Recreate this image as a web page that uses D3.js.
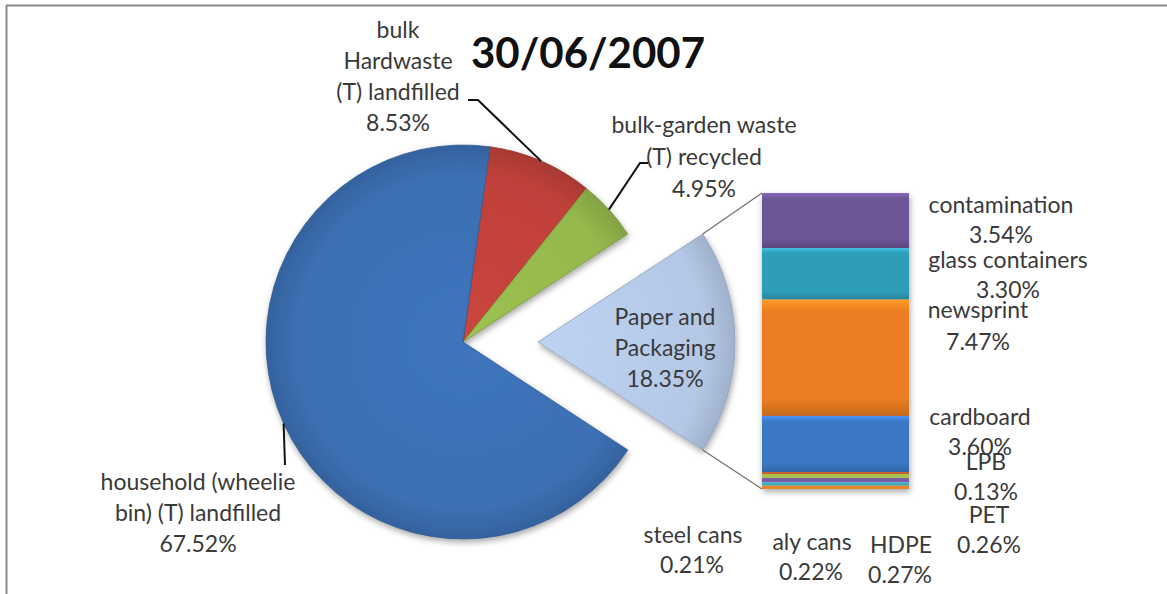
<!DOCTYPE html>
<html>
<head>
<meta charset="utf-8">
<script src="https://cdn.jsdelivr.net/npm/d3@7"></script>
<style>
  html, body { margin: 0; padding: 0; background: #fff; }
  svg { display: block; }
  text { font-family: Lato, "Open Sans", sans-serif; fill: #3a3a3a; }
</style>
</head>
<body>
<svg id="chart" width="1167" height="594"></svg>
<script>
// ---------------- data ----------------
const chartTitle = "30/06/2007";
const pieCategories = ["bulk Hardwaste (T) landfilled", "bulk-garden waste (T) recycled", "Paper and Packaging", "household (wheelie bin) (T) landfilled"];
const pieValues = [8.53, 4.95, 18.35, 67.52];
const pieLabelLines = [["bulk", "Hardwaste", "(T) landfilled"], ["bulk-garden waste", "(T) recycled"], ["Paper and", "Packaging"], ["household (wheelie", "bin) (T) landfilled"]];
const barCategories = ["contamination", "glass containers", "newsprint", "cardboard", "LPB", "PET", "HDPE", "aly cans", "steel cans"];
const barValues = [3.54, 3.30, 7.47, 3.60, 0.13, 0.26, 0.27, 0.22, 0.21];

// ---------------- layout / style ----------------
const pieColors = ["#c0413a", "#94b84c", "#b4c8e6", "#3c6fb3"];
const barColors = ["#6e5496", "#2f9db8", "#eb7e22", "#3a78c4", "#c8602e", "#a8c04e", "#7a5aa6", "#3fa9c0", "#e8852c"];
const pieLabelPos = [
  {x: 398, y: 38, dy: 31, leader: [[468, 100], [478, 100]]},
  {x: 704, y: 133, dy: 32, leader: [[648, 163], [640, 163]]},
  {x: 665, y: 325, dy: 31, leader: null},
  {x: 198, y: 490, dy: 31, leader: [[285, 465]]}
];
const barLabelPos = [
  {x: 1001, y: 213, vx: 1001, vy: 243},
  {x: 1008, y: 268, vx: 1008, vy: 298},
  {x: 978, y: 318, vx: 978, vy: 350},
  {x: 980, y: 425, vx: 980, vy: 455},
  {x: 986, y: 470, vx: 986, vy: 500},
  {x: 989, y: 523, vx: 989, vy: 553},
  {x: 901, y: 553, vx: 900, vy: 583},
  {x: 812, y: 550, vx: 811, vy: 580},
  {x: 693, y: 543, vx: 692, vy: 573}
];
const cx = 463, cy = 342, R = 197, explode = 75;
const barX = 762, barW = 147, barTop = 193, barBottom = 489;
const fontSize = 23;

const fmt = d => d3.format(".2f")(d) + "%";
const svg = d3.select("#chart");
const defs = svg.append("defs");

// drop shadow
const f = defs.append("filter").attr("id", "shadow").attr("x", "-20%").attr("y", "-20%").attr("width", "140%").attr("height", "140%");
f.append("feGaussianBlur").attr("in", "SourceAlpha").attr("stdDeviation", 3);
f.append("feOffset").attr("dx", 1).attr("dy", 3).attr("result", "ob");
f.append("feComponentTransfer").append("feFuncA").attr("type", "linear").attr("slope", 0.35);
const fm = f.append("feMerge");
fm.append("feMergeNode");
fm.append("feMergeNode").attr("in", "SourceGraphic");

// frame
svg.append("line").attr("x1", 6).attr("y1", 5.5).attr("x2", 1167).attr("y2", 5.5).attr("stroke", "#8a8a8a").attr("stroke-width", 2);
svg.append("line").attr("x1", 6.5).attr("y1", 5).attr("x2", 6.5).attr("y2", 594).attr("stroke", "#8a8a8a").attr("stroke-width", 2);

// ---------------- pie ----------------
const total = d3.sum(pieValues);
const paperIdx = 2;
const before = d3.sum(pieValues.slice(0, paperIdx)) + pieValues[paperIdx] / 2;
const start = Math.PI / 2 - before / total * 2 * Math.PI;
const pie = d3.pie().sort(null).value(d => d).startAngle(start).endAngle(start + 2 * Math.PI);
const arcs = pie(pieValues);
const arc = d3.arc().innerRadius(0).outerRadius(R);
const rim = d3.arc().innerRadius(R).outerRadius(R);

pieColors.forEach((c, i) => {
  const g = defs.append("radialGradient").attr("id", "pg" + i).attr("gradientUnits", "userSpaceOnUse")
    .attr("cx", 0).attr("cy", 0).attr("r", R);
  g.append("stop").attr("offset", "0%").attr("stop-color", d3.color(c).brighter(0.15));
  g.append("stop").attr("offset", "85%").attr("stop-color", c);
  g.append("stop").attr("offset", "100%").attr("stop-color", d3.color(c).darker(0.35));
});

const pieG = svg.append("g").attr("filter", "url(#shadow)");
arcs.forEach((a, i) => {
  const mid = (a.startAngle + a.endAngle) / 2;
  const off = i === paperIdx ? explode : 0;
  const tx = cx + off * Math.sin(mid), ty = cy - off * Math.cos(mid);
  pieG.append("g").attr("transform", `translate(${tx},${ty})`)
    .append("path").attr("d", arc(a)).attr("fill", `url(#pg${i})`)
    .attr("stroke", d3.color(pieColors[i]).darker(0.6)).attr("stroke-width", 0.8);
});

// ---------------- bar ----------------
const barTotal = d3.sum(barValues);
const y = d3.scaleLinear().domain([0, barTotal]).range([barTop, barBottom]);
const cum = d3.cumsum(barValues);
const barG = svg.append("g").attr("filter", "url(#shadow)");
barValues.forEach((v, i) => {
  const y0 = y(cum[i] - v), y1 = y(cum[i]);
  const c = barColors[i];
  const g = defs.append("linearGradient").attr("id", "bg" + i).attr("x1", 0).attr("y1", 0).attr("x2", 0).attr("y2", 1);
  g.append("stop").attr("offset", "0%").attr("stop-color", d3.color(c).brighter(0.6));
  g.append("stop").attr("offset", "10%").attr("stop-color", c);
  g.append("stop").attr("offset", "85%").attr("stop-color", c);
  g.append("stop").attr("offset", "100%").attr("stop-color", d3.color(c).darker(0.5));
  barG.append("rect").attr("x", barX).attr("y", y0).attr("width", barW).attr("height", y1 - y0)
    .attr("fill", `url(#bg${i})`);
});

// connector lines
const pa = arcs[paperIdx];
const pMid = (pa.startAngle + pa.endAngle) / 2;
const pcx = cx + explode * Math.sin(pMid), pcy = cy - explode * Math.cos(pMid);
const c1 = [pcx + R * Math.sin(pa.startAngle), pcy - R * Math.cos(pa.startAngle)];
const c2 = [pcx + R * Math.sin(pa.endAngle), pcy - R * Math.cos(pa.endAngle)];
svg.append("line").attr("x1", c1[0]).attr("y1", c1[1]).attr("x2", barX).attr("y2", y(0)).attr("stroke", "#6f6f6f").attr("stroke-width", 1.2);
svg.append("line").attr("x1", c2[0]).attr("y1", c2[1]).attr("x2", barX).attr("y2", y(barTotal)).attr("stroke", "#6f6f6f").attr("stroke-width", 1.2);

// ---------------- labels ----------------
const line = d3.line();
arcs.forEach((a, i) => {
  const p = pieLabelPos[i];
  if (p.leader) {
    const end = rim.centroid(a);
    const pts = p.leader.concat([[cx + end[0], cy + end[1]]]);
    svg.append("path").attr("d", line(pts)).attr("fill", "none").attr("stroke", "#111").attr("stroke-width", 2);
  }
  const lines = pieLabelLines[i].concat([fmt(pieValues[i])]);
  const t = svg.append("text").attr("text-anchor", "middle").attr("font-size", fontSize);
  lines.forEach((s, k) => t.append("tspan").attr("x", p.x).attr("y", p.y + k * p.dy).text(s));
});

barCategories.forEach((name, i) => {
  const p = barLabelPos[i];
  svg.append("text").attr("text-anchor", "middle").attr("font-size", fontSize).attr("x", p.x).attr("y", p.y).text(name);
  svg.append("text").attr("text-anchor", "middle").attr("font-size", fontSize).attr("x", p.vx).attr("y", p.vy).text(fmt(barValues[i]));
});

svg.append("text").attr("x", 588).attr("y", 68).attr("text-anchor", "middle")
  .attr("font-size", 42).attr("font-weight", "bold").style("fill", "#111").text(chartTitle);
</script>
</body>
</html>
